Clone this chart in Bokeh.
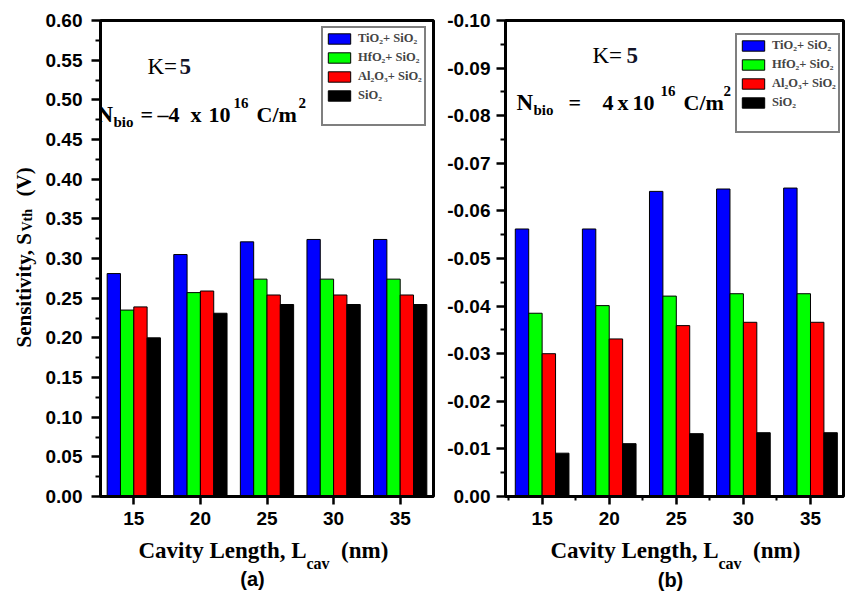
import numpy as np
from bokeh.plotting import figure
from bokeh.models import Range1d, Label, Legend, LegendItem, FixedTicker, NumeralTickFormatter
from bokeh.layouts import row
from bokeh.embed import file_html
from bokeh.resources import INLINE

# ---------------- data ----------------
cavity = [15, 20, 25, 30, 35]
series_names = ["TiO\u2082+ SiO\u2082", "HfO\u2082+ SiO\u2082", "Al\u2082O\u2083+ SiO\u2082", "SiO\u2082"]
colors = ["#0000FF", "#00FF00", "#FF0000", "#000000"]

a_tio2 = [0.281, 0.305, 0.321, 0.324, 0.324]
a_hfo2 = [0.235, 0.257, 0.274, 0.274, 0.274]
a_al2o3 = [0.239, 0.259, 0.254, 0.254, 0.254]
a_sio2 = [0.200, 0.231, 0.242, 0.242, 0.242]

b_tio2 = [-0.0562, -0.0562, -0.0641, -0.0646, -0.0648]
b_hfo2 = [-0.0385, -0.0401, -0.0421, -0.0426, -0.0426]
b_al2o3 = [-0.0300, -0.0331, -0.0359, -0.0366, -0.0366]
b_sio2 = [-0.0091, -0.0111, -0.0132, -0.0134, -0.0134]

a_yticks = [0.00, 0.05, 0.10, 0.15, 0.20, 0.25, 0.30, 0.35, 0.40, 0.45, 0.50, 0.55, 0.60]
b_yticks = [0.00, -0.01, -0.02, -0.03, -0.04, -0.05, -0.06, -0.07, -0.08, -0.09, -0.10]

SERIF = "Liberation Serif"
SANS = "Liberation Sans"
NB = "\u00a0"
H = 594
TOP, BOTTOM = 20, 496


def make_panel(width, b_left, b_right, xr, yr, yticks, yminor, xminor, ystandoff):
    p = figure(width=width, height=H, x_range=Range1d(*xr), y_range=Range1d(*yr),
               output_backend="svg", toolbar_location=None,
               min_border_left=b_left, min_border_right=b_right,
               min_border_top=TOP, min_border_bottom=H - BOTTOM)
    p.grid.visible = False
    p.outline_line_color = "black"
    p.outline_line_width = 3
    p.background_fill_color = "white"
    p.border_fill_color = "white"
    for ax in (p.xaxis[0], p.yaxis[0]):
        ax.axis_line_width = 3
        ax.major_tick_line_width = 2.5
        ax.minor_tick_line_width = 2
        ax.major_tick_in = 0
        ax.minor_tick_in = 0
        ax.major_label_text_font = SANS
        ax.major_label_text_font_style = "bold"
        ax.major_label_text_font_size = "19px"
        ax.major_label_text_color = "black"
    p.xaxis.ticker = FixedTicker(ticks=cavity, minor_ticks=xminor)
    p.xaxis.major_tick_out = 8
    p.xaxis.minor_tick_out = 4
    p.xaxis.major_label_standoff = 7
    p.yaxis.ticker = FixedTicker(ticks=yticks, minor_ticks=yminor)
    p.yaxis.formatter = NumeralTickFormatter(format="0.00")
    p.yaxis.major_tick_out = 9
    p.yaxis.minor_tick_out = 5
    p.yaxis.major_label_standoff = ystandoff
    return p


def px_mapper(xr, yr, fl, fr):
    def fx(px):
        return xr[0] + (px - fl) * (xr[1] - xr[0]) / (fr - fl)

    def fy(py):
        return yr[0] + (BOTTOM - py) * (yr[1] - yr[0]) / (BOTTOM - TOP)
    return fx, fy


def add_text(p, fx, fy, px, py, text, size, font=SERIF, style="bold", color="black",
             angle=0.0, align="left", place="center"):
    lab = Label(x=fx(px), y=fy(py), text=text, text_font=font,
                text_font_style=style, text_font_size=f"{size}px",
                text_color=color, angle=angle, text_align=align,
                text_baseline="alphabetic")
    if place == "center":
        p.add_layout(lab)
    else:
        # side panels are not clipped to the frame; data coords still place the text
        p.add_layout(lab, place)


def add_bars(p, vals):
    rends = []
    offsets = [-1.5, -0.5, 0.5, 1.5]
    for v, c, off in zip(vals, colors, offsets):
        r = p.vbar(x=[x + off for x in cavity], top=v, bottom=0, width=1.0,
                   fill_color=c, line_color="black", line_width=1)
        rends.append(r)
    return rends


def add_legend(p, rends, loc):
    blank = p.scatter(x=[], y=[], fill_alpha=0, line_alpha=0)
    items = [LegendItem(label=n, renderers=[r]) for n, r in zip(series_names, rends)]
    items.append(LegendItem(label=" ", renderers=[blank]))
    leg = Legend(items=items, location=loc, border_line_color="black",
                 border_line_width=2, background_fill_color="white",
                 background_fill_alpha=1.0, padding=2, spacing=3, margin=0,
                 glyph_width=28, glyph_height=13, label_height=16,
                 label_standoff=5, label_text_font=SERIF,
                 label_text_font_style="bold", label_text_font_size="12.5px")
    p.add_layout(leg)


# ---------------- panel (a) ----------------
AXR = (12.5, 37.5)
AYR = (0.0, 0.60)
AFL, AFR = 100, 433
pa = make_panel(440, AFL, 440 - AFR, AXR, AYR, a_yticks,
                [0.025 + 0.05 * i for i in range(12)], [], 9)
pa.xaxis.minor_tick_line_color = None
ra = add_bars(pa, [a_tio2, a_hfo2, a_al2o3, a_sio2])
fx, fy = px_mapper(AXR, AYR, AFL, AFR)

add_text(pa, fx, fy, 147, 66, "K=", 23, style="normal")
add_text(pa, fx, fy, 179, 66, "5", 23, color="#141428")
add_text(pa, fx, fy, 96, 114, "N", 23)
add_text(pa, fx, fy, 113, 121, "bio", 15)
add_text(pa, fx, fy, 140, 114, "=", 22)
add_text(pa, fx, fy, 157, 114, "\u20134", 22)
add_text(pa, fx, fy, 190, 114, "x", 22)
add_text(pa, fx, fy, 208, 114, "10", 22)
add_text(pa, fx, fy, 233, 102, "16", 15)
add_text(pa, fx, fy, 256, 114, "C/m", 22)
add_text(pa, fx, fy, 298, 102, "2", 15)

# y-axis title (rotated); side-panel text lands ~9px further right, so compensate
add_text(pa, fx, fy, 23, 347, "Sensitivity, S" + NB * 7 + "(V)", 21,
         angle=np.pi / 2, place="left")
add_text(pa, fx, fy, 27, 231, "Vth", 14, angle=np.pi / 2, place="left")

# x-axis title; below-panel text lands ~8px lower, so compensate
add_text(pa, fx, fy, 138, 550, "Cavity Length, L" + NB * 6 + "(nm)", 23, place="below")
add_text(pa, fx, fy, 306, 563, "cav", 16, place="above")
add_text(pa, fx, fy, 252, 578, "(a)", 20, font=SANS, align="center", place="below")

add_legend(pa, ra, (221, 370))

# ---------------- panel (b) ----------------
BXR = (12.27, 37.46)
BYR = (0.0, -0.10)
BFL, BFR = 505, 843
W2 = 849 - 440
pb = make_panel(W2, BFL - 440, 849 - BFR, BXR, BYR, b_yticks,
                [-0.005 - 0.01 * i for i in range(10)],
                [12.5, 17.5, 22.5, 27.5, 32.5, 37.5], 6)
rb = add_bars(pb, [b_tio2, b_hfo2, b_al2o3, b_sio2])
gx, gy = px_mapper(BXR, BYR, BFL - 440, BFR - 440)


def gxx(px):
    return gx(px - 440)


add_text(pb, gxx, gy, 592, 55, "K=", 23, style="normal")
add_text(pb, gxx, gy, 626, 55, "5", 23, color="#141428")
add_text(pb, gxx, gy, 516, 102, "N", 23)
add_text(pb, gxx, gy, 533, 109, "bio", 15)
add_text(pb, gxx, gy, 568, 102, "=", 22)
add_text(pb, gxx, gy, 602, 102, "4", 22)
add_text(pb, gxx, gy, 617, 102, "x", 22)
add_text(pb, gxx, gy, 632, 102, "10", 22)
add_text(pb, gxx, gy, 660, 90, "16", 15)
add_text(pb, gxx, gy, 683, 102, "C/m", 22)
add_text(pb, gxx, gy, 723, 90, "2", 15)

add_text(pb, gxx, gy, 550, 550, "Cavity Length, L" + NB * 6 + "(nm)", 23, place="below")
add_text(pb, gxx, gy, 718, 563, "cav", 16, place="above")
add_text(pb, gxx, gy, 670, 579, "(b)", 20, font=SANS, align="center", place="below")

add_legend(pb, rb, (230, 363))

layout = row(pa, pb)
open("out.html", "w").write(file_html(layout, INLINE))
